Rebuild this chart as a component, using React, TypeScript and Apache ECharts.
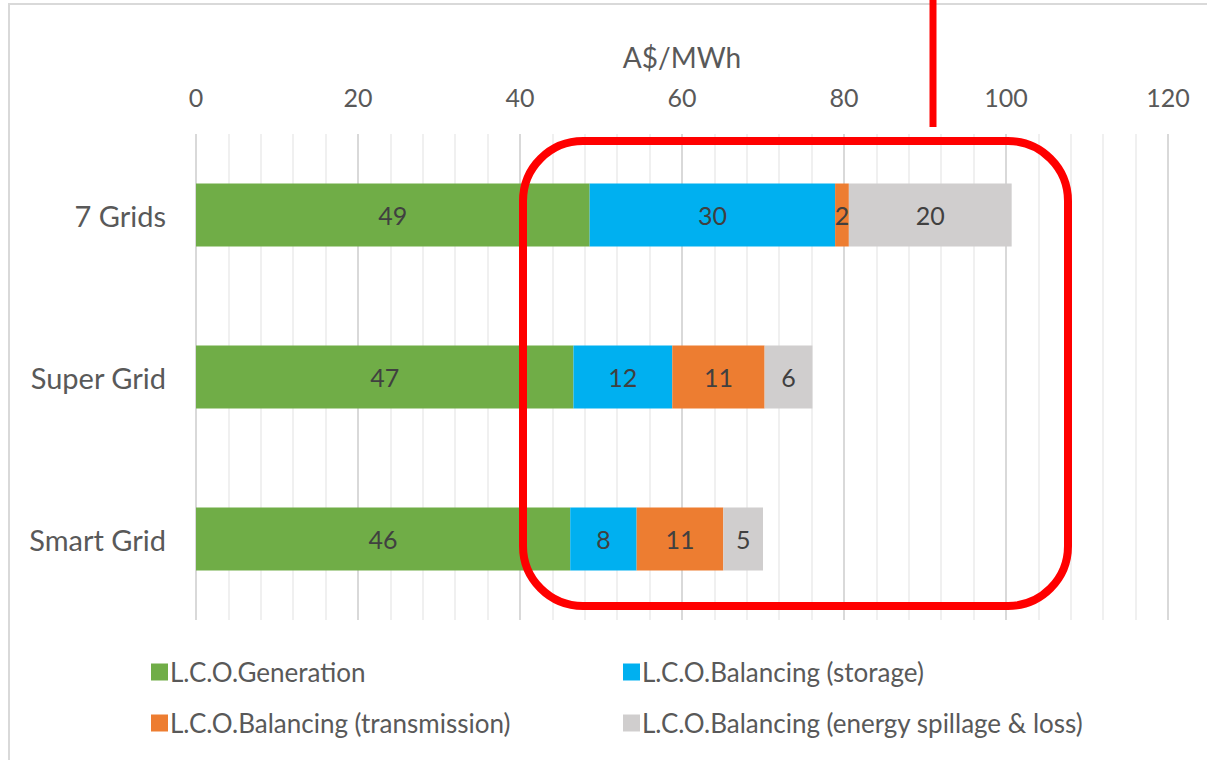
import React, { useEffect, useRef } from "react";
import * as echarts from "echarts";

const categories = ["7 Grids", "Super Grid", "Smart Grid"];
const seriesNames = [
  "L.C.O.Generation",
  "L.C.O.Balancing (storage)",
  "L.C.O.Balancing (transmission)",
  "L.C.O.Balancing (energy spillage & loss)",
];
const generation = [48.6, 46.6, 46.2];
const storage = [30.3, 12.2, 8.2];
const transmission = [1.7, 11.4, 10.7];
const spillage = [20.1, 5.9, 4.9];
const colors = ["#70ad47", "#00b0f0", "#ed7d31", "#d0cece"];
const xTicks = [0, 20, 40, 60, 80, 100, 120];

const FONT = "Lato, 'Open Sans', sans-serif";

export default function App() {
  const ref = useRef<HTMLDivElement>(null);
  useEffect(() => {
    if (!ref.current) return;
    const chart = echarts.init(ref.current, undefined, { renderer: "svg" });
    const values = [generation, storage, transmission, spillage];
    const legendText = { fontSize: 26, color: "#595959", fontFamily: FONT, padding: [0, 0, 0, -3] };
    chart.setOption({
      animation: false,
      backgroundColor: "#ffffff",
      textStyle: { fontFamily: FONT },
      grid: { left: 196, right: 39, top: 134, bottom: 140, containLabel: false },
      xAxis: {
        type: "value",
        position: "top",
        min: xTicks[0],
        max: xTicks[xTicks.length - 1],
        interval: 20,
        name: "A$/MWh",
        nameLocation: "middle",
        nameGap: 63,
        nameTextStyle: { fontSize: 28, color: "#595959", fontFamily: FONT },
        axisLine: { show: false },
        axisTick: { show: false },
        axisLabel: { fontSize: 25, color: "#595959", margin: 25, fontFamily: FONT },
        splitLine: { show: true, lineStyle: { color: "#d9d9d9", width: 2 } },
        minorTick: { show: false, splitNumber: 5 },
        minorSplitLine: { show: true, lineStyle: { color: "#f0f0f0", width: 2 } },
      },
      yAxis: {
        type: "category",
        data: categories,
        inverse: true,
        axisLine: { show: false },
        axisTick: { show: false },
        axisLabel: { fontSize: 29, color: "#595959", margin: 30, fontFamily: FONT },
        splitLine: { show: false },
      },
      legend: [
        {
          data: [seriesNames[0], seriesNames[2]],
          orient: "vertical",
          left: 146,
          top: 654,
          itemWidth: 17,
          itemHeight: 17,
          itemGap: 25,
          icon: "rect",
          textStyle: legendText,
        },
        {
          data: [seriesNames[1], seriesNames[3]],
          orient: "vertical",
          left: 618,
          top: 654,
          itemWidth: 17,
          itemHeight: 17,
          itemGap: 25,
          icon: "rect",
          textStyle: legendText,
        },
      ],
      series: seriesNames.map((name, i) => ({
        name,
        type: "bar",
        stack: "total",
        data: values[i],
        barWidth: 63,
        itemStyle: { color: colors[i] },
        label: {
          show: true,
          position: "inside",
          fontSize: 25,
          color: "#404040",
          fontFamily: FONT,
          formatter: (p: any) => String(Math.round(p.value)),
        },
      })),
      graphic: [
        {
          type: "rect",
          silent: true,
          shape: { x: 9, y: 4, width: 1400, height: 900 },
          style: { fill: "none", stroke: "#d9d9d9", lineWidth: 2 },
          z: 100,
        },
        {
          type: "rect",
          silent: true,
          shape: { x: 523, y: 141, width: 545, height: 465, r: 60 },
          style: { fill: "none", stroke: "#ff0000", lineWidth: 8 },
          z: 100,
        },
        {
          type: "line",
          silent: true,
          shape: { x1: 933, y1: 0, x2: 933, y2: 127 },
          style: { stroke: "#ff0000", lineWidth: 7 },
          z: 100,
        },
      ],
    });
    return () => chart.dispose();
  }, []);
  return (
    <div
      ref={ref}
      style={{ position: "absolute", left: 0, top: 0, width: 1207, height: 760 }}
    />
  );
}
